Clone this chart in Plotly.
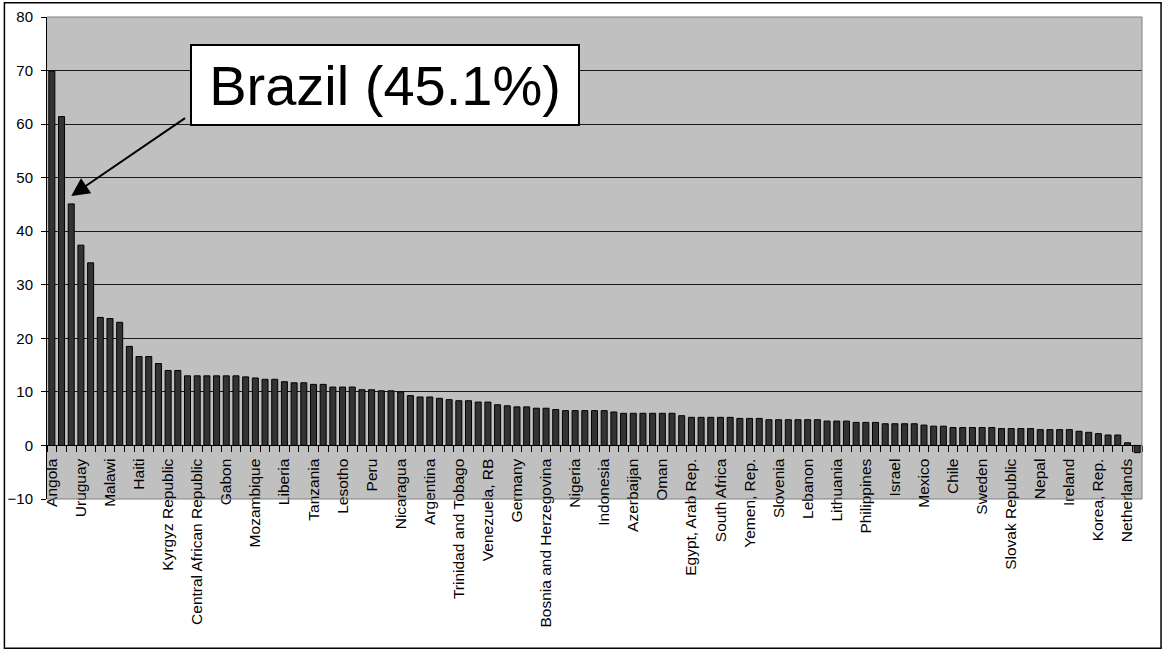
import numpy as np
import plotly.graph_objects as go

# Countries shown on the category axis (every third bar is labelled)
labels = [
    "Angola", "Uruguay", "Malawi", "Haiti", "Kyrgyz Republic",
    "Central African Republic", "Gabon", "Mozambique", "Liberia", "Tanzania",
    "Lesotho", "Peru", "Nicaragua", "Argentina", "Trinidad and Tobago",
    "Venezuela, RB", "Germany", "Bosnia and Herzegovina", "Nigeria", "Indonesia",
    "Azerbaijan", "Oman", "Egypt, Arab Rep.", "South Africa", "Yemen, Rep.",
    "Slovenia", "Lebanon", "Lithuania", "Philippines", "Israel",
    "Mexico", "Chile", "Sweden", "Slovak Republic", "Nepal",
    "Ireland", "Korea, Rep.", "Netherlands",
]

# Values for all ranked countries, highest first
values = [
    69.9, 61.4, 45.1, 37.4, 34.1, 23.9, 23.7, 23.0, 18.5, 16.6,
    16.6, 15.3, 14.0, 14.0, 13.0, 13.0, 13.0, 13.0, 13.0, 13.0,
    12.8, 12.6, 12.35, 12.35, 11.9, 11.7, 11.7, 11.4, 11.4, 10.9,
    10.9, 10.9, 10.4, 10.4, 10.2, 10.2, 10.0, 9.3, 9.05, 9.05,
    8.8, 8.55, 8.35, 8.35, 8.1, 8.1, 7.6, 7.4, 7.2, 7.2,
    6.95, 6.95, 6.7, 6.5, 6.5, 6.5, 6.5, 6.5, 6.25, 6.0,
    6.0, 6.0, 6.0, 6.0, 6.0, 5.55, 5.25, 5.25, 5.25, 5.25,
    5.25, 5.05, 5.05, 5.05, 4.8, 4.8, 4.8, 4.8, 4.8, 4.8,
    4.55, 4.55, 4.55, 4.3, 4.3, 4.3, 4.05, 4.05, 4.05, 4.05,
    3.8, 3.6, 3.6, 3.35, 3.35, 3.35, 3.35, 3.35, 3.15, 3.15,
    3.15, 3.15, 2.95, 2.95, 2.95, 2.95, 2.65, 2.45, 2.2, 1.95,
    1.95, 0.5, -1.35,
]

highlight_name = "Brazil"
highlight_rank = 3
highlight_value = values[highlight_rank - 1]

y_min, y_max = -10, 80
n = len(values)
ranks = np.arange(1, n + 1)
label_ranks = ranks[::3][: len(labels)]
boundaries = np.arange(0.5, n + 1.0, 1.0)

FONT = "Liberation Sans, Arial, sans-serif"

fig = go.Figure(
    go.Bar(
        x=ranks,
        y=values,
        marker=dict(color="#333333", line=dict(color="#000000", width=1)),
        hoverinfo="x+y",
    )
)

fig.update_layout(
    width=1163,
    height=650,
    margin=dict(l=47, r=21, t=17, b=151),
    paper_bgcolor="white",
    plot_bgcolor="#C0C0C0",
    showlegend=False,
    bargap=0.38,
    font=dict(family=FONT, color="black"),
)

fig.update_xaxes(
    range=[0.5, n + 0.5],
    anchor="free",
    position=(0 - y_min) / (y_max - y_min),
    automargin=False,
    showline=True,
    linecolor="black",
    linewidth=1,
    showgrid=False,
    zeroline=False,
    tickmode="array",
    tickvals=label_ranks,
    ticktext=labels,
    tickangle=-90,
    ticks="outside",
    ticklen=6,
    tickcolor="rgba(0,0,0,0)",
    tickfont=dict(size=15.5, family=FONT, color="black"),
    minor=dict(
        tickmode="array",
        tickvals=boundaries,
        ticks="outside",
        ticklen=6,
        tickcolor="black",
        tickwidth=1,
        showgrid=False,
    ),
)

fig.update_yaxes(
    range=[y_min, y_max],
    tick0=0,
    dtick=10,
    automargin=False,
    showline=True,
    linecolor="black",
    linewidth=1,
    ticks="outside",
    ticklen=5,
    tickcolor="black",
    ticklabelstandoff=5,
    showgrid=True,
    gridcolor="#1a1a1a",
    gridwidth=1,
    zeroline=False,
    tickfont=dict(size=15, family=FONT, color="black"),
)

# Grey plot-area frame (top, right, bottom) and outer black chart frame
frame = dict(color="#808080", width=1)
fig.add_shape(type="line", xref="paper", yref="paper", x0=0, x1=1, y0=1, y1=1, line=frame, layer="above")
fig.add_shape(type="line", xref="paper", yref="paper", x0=1, x1=1, y0=0, y1=1, line=frame, layer="above")
fig.add_shape(type="line", xref="paper", yref="paper", x0=0, x1=1, y0=0, y1=0, line=frame, layer="above")
fig.add_shape(
    type="rect", xref="paper", yref="paper",
    x0=-0.0389, x1=1.0174, y0=-0.3095, y1=1.0295,
    line=dict(color="black", width=1.5), layer="above",
)

# Callout box and arrow pointing to the highlighted bar
fig.add_annotation(
    xref="paper", yref="paper", x=0.3087, y=0.859,
    xanchor="center", yanchor="middle",
    text=f"{highlight_name} ({highlight_value:.1f}%)",
    showarrow=False,
    font=dict(size=56, family=FONT, color="black"),
    bgcolor="white", bordercolor="black", borderwidth=2, borderpad=0,
    width=386, height=78, align="center", valign="middle",
)
fig.add_annotation(
    xref="x", yref="y", x=highlight_rank, y=highlight_value + 1.5,
    axref="x", ayref="y", ax=14.9, ay=61.3,
    text="", showarrow=True,
    arrowhead=2, arrowsize=1.8, arrowwidth=2, arrowcolor="black", standoff=0,
)

fig.write_html("out.html")
